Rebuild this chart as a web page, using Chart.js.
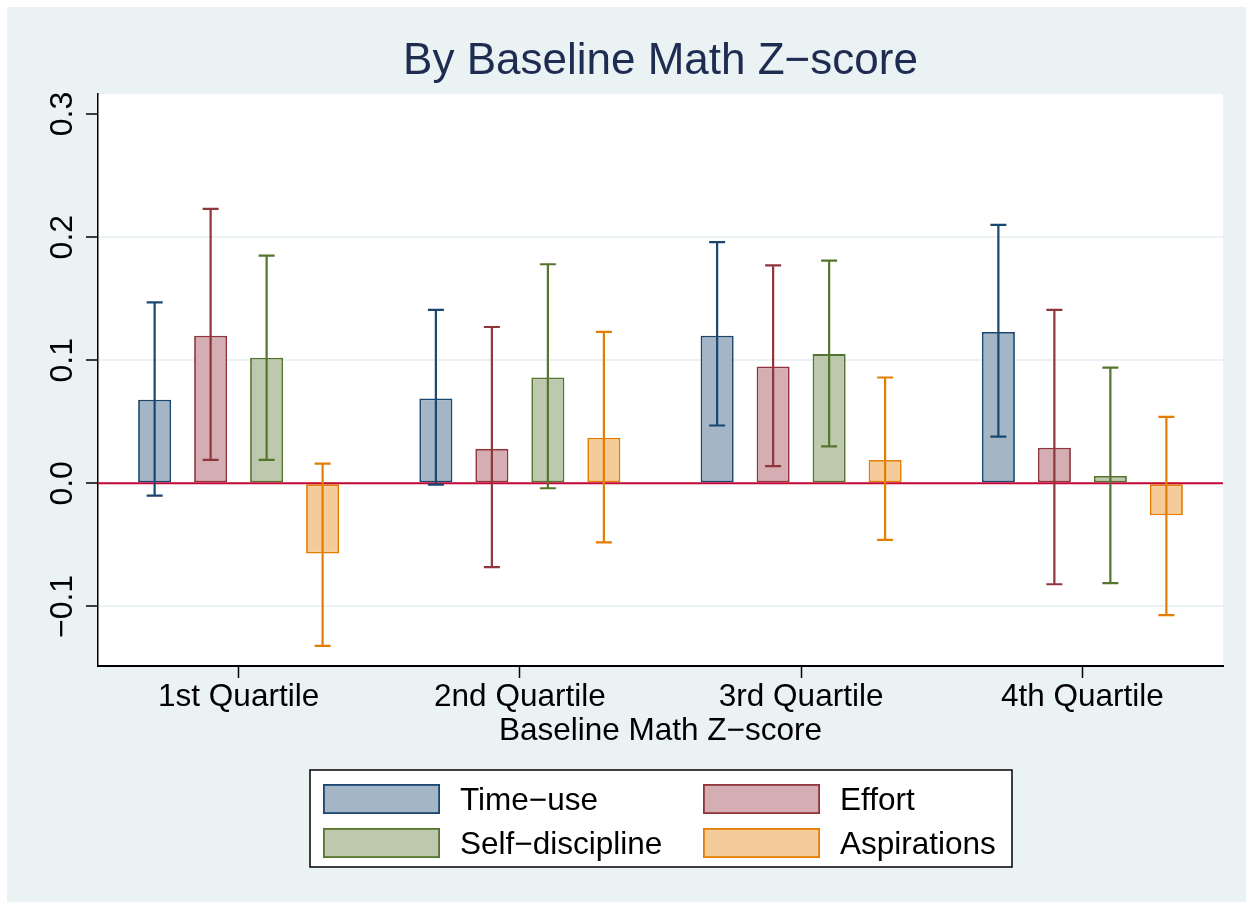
<!DOCTYPE html>
<html>
<head>
<meta charset="utf-8">
<script src="https://cdn.jsdelivr.net/npm/chart.js@4.4.1/dist/chart.umd.min.js"></script>
<style>
  html, body { margin: 0; padding: 0; background: #ffffff; }
  #wrap { width: 1253px; height: 909px; }
</style>
</head>
<body>
<div id="wrap"><canvas id="c" width="1253" height="909"></canvas></div>
<script>
// Quartile groups along the x axis
const categories = ['1st Quartile', '2nd Quartile', '3rd Quartile', '4th Quartile'];

// Point estimates per outcome
const timeUse     = [0.068, 0.069, 0.120, 0.123];
const effort      = [0.120, 0.028, 0.095, 0.029];
const selfDisc    = [0.102, 0.086, 0.105, 0.006];
const aspirations = [-0.057, 0.037, 0.019, -0.026];

// Confidence interval bounds per outcome
const timeUseLo     = [-0.010, -0.001, 0.047, 0.038];
const timeUseHi     = [0.147, 0.141, 0.196, 0.210];
const effortLo      = [0.019, -0.068, 0.014, -0.082];
const effortHi      = [0.223, 0.127, 0.177, 0.141];
const selfDiscLo    = [0.019, -0.004, 0.030, -0.081];
const selfDiscHi    = [0.185, 0.178, 0.181, 0.094];
const aspirationsLo = [-0.132, -0.048, -0.046, -0.107];
const aspirationsHi = [0.016, 0.123, 0.086, 0.054];

// Y axis tick values
const yTicks = [-0.1, 0.0, 0.1, 0.2, 0.3];

const seriesNames = ['Time\u2212use', 'Effort', 'Self\u2212discipline', 'Aspirations'];
const lineColors  = ['#1a476f', '#90353b', '#55752f', '#e37e00'];
const fillColors  = ['#a4b5c6', '#d4aeb2', '#bcc9ac', '#f4cb99'];

const FONT = '"Liberation Sans", Arial, Helvetica, sans-serif';
const BG = '#eaf2f3';

const values = [timeUse, effort, selfDisc, aspirations];
const lows   = [timeUseLo, effortLo, selfDiscLo, aspirationsLo];
const highs  = [timeUseHi, effortHi, selfDiscHi, aspirationsHi];

const datasets = values.map((v, i) => ({
  label: seriesNames[i],
  data: v,
  backgroundColor: fillColors[i],
  borderColor: lineColors[i],
  borderWidth: 1.8,
  borderSkipped: false,
  ciLow: lows[i],
  ciHigh: highs[i],
  categoryPercentage: 0.7964,
  barPercentage: 0.59
}));

// Panel backgrounds: outer region and white plot area
const backgroundPlugin = {
  id: 'panels',
  beforeDraw(chart) {
    const ctx = chart.ctx, a = chart.chartArea;
    ctx.save();
    ctx.fillStyle = '#ffffff';
    ctx.fillRect(0, 0, chart.width, chart.height);
    ctx.fillStyle = BG;
    ctx.fillRect(7, 7, chart.width - 14, chart.height - 14);
    ctx.fillStyle = '#ffffff';
    ctx.fillRect(a.left, a.top, a.right - a.left, a.bottom - a.top);
    ctx.restore();
  }
};

// Zero reference line and confidence interval whiskers
const overlayPlugin = {
  id: 'overlay',
  afterDatasetsDraw(chart) {
    const ctx = chart.ctx, a = chart.chartArea;
    const y = chart.scales.y;
    ctx.save();
    const y0 = y.getPixelForValue(0);
    ctx.strokeStyle = '#c10534';
    ctx.lineWidth = 2;
    ctx.beginPath();
    ctx.moveTo(a.left, y0);
    ctx.lineTo(a.right, y0);
    ctx.stroke();

    chart.data.datasets.forEach((ds, di) => {
      const meta = chart.getDatasetMeta(di);
      ctx.strokeStyle = ds.borderColor;
      ctx.lineWidth = 2.2;
      meta.data.forEach((bar, j) => {
        const x = bar.x;
        const yl = y.getPixelForValue(ds.ciLow[j]);
        const yh = y.getPixelForValue(ds.ciHigh[j]);
        ctx.beginPath();
        ctx.moveTo(x, yl); ctx.lineTo(x, yh);
        ctx.moveTo(x - 8, yl); ctx.lineTo(x + 8, yl);
        ctx.moveTo(x - 8, yh); ctx.lineTo(x + 8, yh);
        ctx.stroke();
      });
    });
    ctx.restore();
  }
};

// Title, rotated y tick labels and the boxed legend
const textPlugin = {
  id: 'texts',
  afterDraw(chart) {
    const ctx = chart.ctx, a = chart.chartArea;
    const y = chart.scales.y;
    ctx.save();
    ctx.fillStyle = '#1e2c52';
    ctx.font = '44px ' + FONT;
    ctx.textAlign = 'center';
    ctx.textBaseline = 'alphabetic';
    ctx.fillText('By Baseline Math Z\u2212score', (a.left + a.right) / 2, 74);

    ctx.fillStyle = '#000000';
    ctx.font = '32px ' + FONT;
    yTicks.forEach(v => {
      const py = y.getPixelForValue(v);
      ctx.save();
      ctx.translate(72, py);
      ctx.rotate(-Math.PI / 2);
      ctx.textAlign = 'center';
      ctx.fillText(v.toFixed(1).replace('-', '\u2212'), 0, 0);
      ctx.restore();
    });

    // legend box
    const bx = 310, by = 770, bw = 702, bh = 97;
    ctx.fillStyle = '#ffffff';
    ctx.fillRect(bx, by, bw, bh);
    ctx.strokeStyle = '#000000';
    ctx.lineWidth = 1.5;
    ctx.strokeRect(bx, by, bw, bh);
    const colX = [323, 703];
    const rowY = [784, 828];
    chart.data.datasets.forEach((ds, i) => {
      const cx = colX[i % 2], ry = rowY[Math.floor(i / 2)];
      ctx.fillStyle = ds.backgroundColor;
      ctx.fillRect(cx, ry, 117, 30);
      ctx.strokeStyle = ds.borderColor;
      ctx.lineWidth = 1.8;
      ctx.strokeRect(cx + 0.9, ry + 0.9, 115.2, 28.2);
      ctx.fillStyle = '#000000';
      ctx.font = '31.5px ' + FONT;
      ctx.textAlign = 'left';
      ctx.textBaseline = 'alphabetic';
      ctx.fillText(ds.label, cx + 137, ry + 26);
    });
    ctx.restore();
  }
};

new Chart(document.getElementById('c'), {
  type: 'bar',
  data: { labels: categories, datasets },
  options: {
    responsive: false,
    animation: false,
    devicePixelRatio: 1,
    layout: { padding: { top: 94, left: 0, right: 30, bottom: 159 } },
    plugins: {
      legend: { display: false },
      title: { display: false },
      tooltip: { enabled: false }
    },
    scales: {
      x: {
        type: 'category',
        offset: true,
        grid: {
          offset: false,
          drawOnChartArea: false,
          drawTicks: true,
          tickLength: 12,
          tickColor: '#000000',
          tickWidth: 1.5
        },
        border: { display: true, color: '#000000', width: 2 },
        ticks: {
          color: '#000000',
          font: { family: FONT, size: 31.5 },
          padding: 0,
          maxRotation: 0,
          minRotation: 0
        },
        title: {
          display: true,
          text: 'Baseline Math Z\u2212score',
          color: '#000000',
          font: { family: FONT, size: 31.5 },
          padding: { top: 0, bottom: 0 }
        },
        afterFit(scale) { scale.height = 84; }
      },
      y: {
        type: 'linear',
        min: -0.1484,
        max: 0.3163,
        afterBuildTicks(scale) { scale.ticks = yTicks.map(v => ({ value: v })); },
        grid: {
          drawTicks: true,
          tickLength: 12,
          tickColor: '#000000',
          tickWidth: 1.5,
          lineWidth: 2,
          color: ctx => {
            const v = ctx.tick ? Math.round(ctx.tick.value * 10) / 10 : null;
            return (v === 0.1 || v === 0.2 || v === -0.1) ? BG : 'rgba(0,0,0,0)';
          }
        },
        border: { display: true, color: '#000000', width: 1.5 },
        ticks: { display: false },
        afterFit(scale) { scale.width = 98; }
      }
    }
  },
  plugins: [backgroundPlugin, overlayPlugin, textPlugin]
});
</script>
</body>
</html>
